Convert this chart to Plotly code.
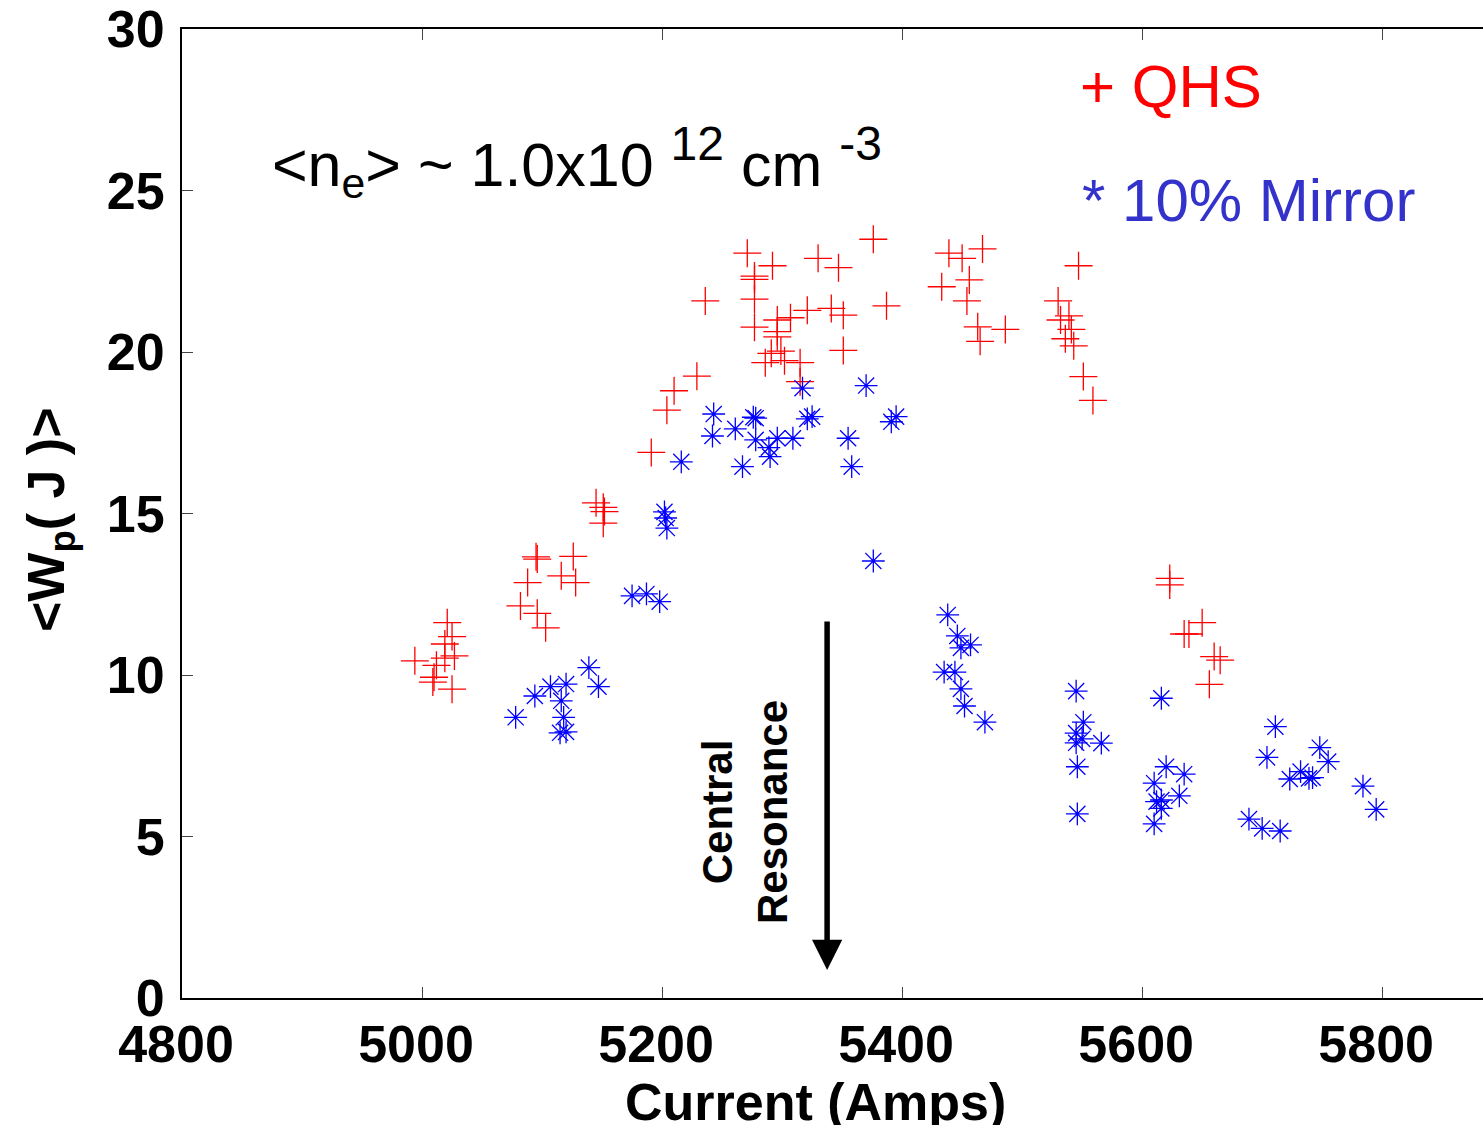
import plotly.graph_objects as go

# QHS (red +)
qhs_x = [5145, 5151, 5152, 5151, 5095, 5096, 5126, 5088, 5116, 5128, 5082, 5096, 5103,
         5021, 5025, 5019, 5027, 4994, 5019, 5012, 5010, 5009, 5025,
         5376, 5271, 5292, 5330, 5347, 5277, 5277, 5277, 5236, 5387, 5321, 5307, 5341, 5351,
         5296, 5277, 5296, 5296, 5299, 5291, 5286, 5302, 5315, 5351, 5315, 5229, 5210, 5204, 5191,
         5439, 5450, 5467, 5456, 5433, 5454, 5463, 5465, 5486, 5547, 5530, 5539, 5532, 5541,
         5536, 5543, 5551, 5559,
         5623, 5623, 5650, 5635, 5639, 5660, 5665, 5656]
qhs_y = [15.33, 15.19, 15.06, 14.70, 13.66, 13.59, 13.67, 12.86, 13.07, 12.86, 12.14, 11.91, 11.46,
         11.62, 11.19, 10.96, 10.59, 10.44, 10.52, 10.30, 9.93, 9.78, 9.56,
         23.49, 23.06, 22.67, 22.90, 22.61, 22.25, 22.35, 21.64, 21.58, 21.43, 21.29, 21.06, 21.35, 21.14,
         20.99, 20.77, 20.63, 20.47, 20.03, 19.96, 19.67, 19.73, 19.67, 20.05, 19.08, 19.25, 18.80, 18.20, 16.89,
         23.06, 22.90, 23.19, 22.23, 22.02, 21.58, 20.78, 20.33, 20.70, 22.67, 21.58, 21.12, 20.99, 20.70,
         20.41, 20.19, 19.24, 18.50,
         12.99, 12.79, 11.62, 11.27, 11.27, 10.57, 10.46, 9.71]

# 10% Mirror (blue *)
mir_x = [5139, 5107, 5120, 5147, 5094, 5116, 5078, 5118, 5115, 5120,
         5175, 5187, 5198, 5202, 5203, 5204,
         5317, 5370, 5243, 5276, 5278, 5321, 5325, 5391, 5395, 5261, 5242, 5278, 5296, 5309,
         5355, 5289, 5290, 5216, 5267, 5358, 5376,
         5438, 5446, 5449, 5457, 5435, 5444, 5449, 5452, 5469,
         5545, 5616, 5551, 5545, 5550, 5545, 5566, 5546, 5546,
         5711, 5704, 5748, 5755, 5732, 5723, 5742, 5739, 5784, 5795, 5689, 5700, 5715,
         5620, 5635, 5610, 5631, 5612, 5616, 5616, 5610]
mir_y = [10.23, 9.64, 9.72, 9.64, 9.35, 9.20, 8.69, 8.69, 8.21, 8.24,
         12.45, 12.51, 12.27, 15.05, 14.86, 14.55,
         18.88, 18.96, 18.08, 17.98, 17.95, 17.93, 18.00, 17.84, 18.00, 17.62, 17.40, 17.28, 17.33, 17.33,
         17.33, 17.04, 16.76, 16.60, 16.45, 16.45, 13.53,
         11.86, 11.21, 10.84, 10.93, 10.09, 10.09, 9.57, 9.04, 8.54,
         9.50, 9.28, 8.54, 8.20, 8.02, 7.90, 7.89, 7.16, 5.70,
         8.40, 7.45, 7.75, 7.32, 7.01, 6.78, 6.82, 6.80, 6.56, 5.84, 5.54, 5.25, 5.17,
         7.16, 6.93, 6.65, 6.26, 6.08, 6.13, 5.87, 5.39]

x_ticks = [4800, 5000, 5200, 5400, 5600, 5800]
y_ticks = [0, 5, 10, 15, 20, 25, 30]

FONT = "Liberation Sans, Arial, sans-serif"

fig = go.Figure()
fig.add_trace(go.Scatter(x=qhs_x, y=qhs_y, mode="markers", name="QHS",
                         marker=dict(symbol="cross-thin", size=20, color="red",
                                     line=dict(color="red", width=1.3))))
fig.add_trace(go.Scatter(x=mir_x, y=mir_y, mode="markers", name="10% Mirror",
                         marker=dict(symbol="asterisk", size=19, color="blue",
                                     line=dict(color="blue", width=1.3))))

fig.update_layout(
    width=1483, height=1125, autosize=False,
    margin=dict(l=182, r=0, t=29, b=127, pad=0),
    paper_bgcolor="white", plot_bgcolor="white",
    showlegend=False,
    font=dict(family=FONT, color="black"),
)
fig.update_xaxes(range=[4800, 5884], tickvals=x_ticks, ticktext=[str(v) for v in x_ticks],
                 showgrid=False, zeroline=False, showline=True, linecolor="black", linewidth=2,
                 mirror="ticks", ticks="inside", ticklen=11, tickwidth=1, tickcolor="#444",
                 tickfont=dict(family=FONT, size=52, weight="bold", color="black"),
                 ticklabelshift=-6, ticklabelstandoff=0)
fig.update_yaxes(range=[0, 30], tickvals=y_ticks, ticktext=[str(v) for v in y_ticks],
                 showgrid=False, zeroline=False, showline=True, linecolor="black", linewidth=2,
                 mirror=False, ticks="inside", ticklen=11, tickwidth=1, tickcolor="#444",
                 tickfont=dict(family=FONT, size=52, weight="bold", color="black"),
                 ticklabelstandoff=5)

# axis titles
fig.add_annotation(text="Current (Amps)", xref="paper", yref="paper",
                   x=(815 - 182) / 1301, y=(998 - 1102) / 969, xanchor="center", yanchor="middle",
                   showarrow=False, font=dict(family=FONT, size=52, weight="bold", color="black"))
fig.add_annotation(text="&lt;W<sub>p</sub>( J )&gt;", xref="paper", yref="paper",
                   x=(50 - 182) / 1301, y=(998 - 520) / 969, xanchor="center", yanchor="middle",
                   textangle=-90, showarrow=False,
                   font=dict(family=FONT, size=52, weight="bold", color="black"))

# density label
fig.add_annotation(text="&lt;n<sub>e</sub>&gt; ~ 1.0x10 <sup><span style='font-size:48px'>12</span></sup>"
                        " cm <sup><span style='font-size:48px'>-3</span></sup>",
                   xref="paper", yref="paper", x=(270 - 182) / 1301, y=(998 - 162) / 969,
                   xanchor="left", yanchor="middle", showarrow=False,
                   font=dict(family=FONT, size=61, color="black"))

# legend-like labels
fig.add_annotation(text="+ QHS", xref="paper", yref="paper",
                   x=(1078 - 182) / 1301, y=(998 - 86) / 969, xanchor="left", yanchor="middle",
                   showarrow=False, font=dict(family=FONT, size=60, color="red"))
fig.add_annotation(text="* 10% Mirror", xref="paper", yref="paper",
                   x=(1080 - 182) / 1301, y=(998 - 200) / 969, xanchor="left", yanchor="middle",
                   showarrow=False, font=dict(family=FONT, size=60, color="#3333cc"))

# central resonance arrow + label
fig.add_annotation(x=5337.5, y=0.87, ax=5337.5, ay=11.7, xref="x", yref="y", axref="x", ayref="y",
                   text="", showarrow=True, arrowhead=2, arrowwidth=5.5, arrowsize=1.1,
                   arrowcolor="black")
fig.add_annotation(text="Central<br>Resonance", xref="paper", yref="paper",
                   x=(745 - 182) / 1301, y=(998 - 812) / 969, xanchor="center", yanchor="middle",
                   textangle=-90, showarrow=False, align="center",
                   font=dict(family=FONT, size=42, weight="bold", color="black"))

fig.write_html("out.html")
